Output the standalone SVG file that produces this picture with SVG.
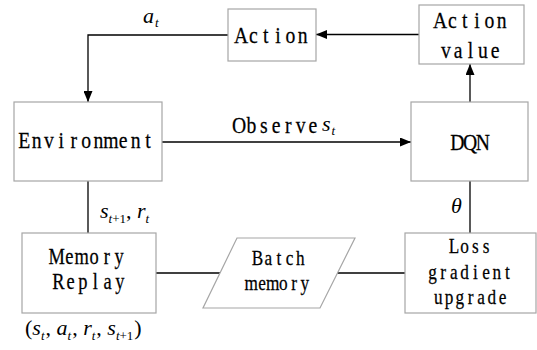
<svg xmlns="http://www.w3.org/2000/svg" width="537" height="350" viewBox="0 0 537 350">
  <defs>
    <marker id="arrow" markerUnits="userSpaceOnUse" markerWidth="11" markerHeight="9" refX="11" refY="4.5" orient="auto">
      <path d="M0,0 L11,4.5 L0,9 z" fill="#000"/>
    </marker>
    <style>
      .box { fill: #fff; stroke: #a6a6a6; stroke-width: 1.2; }
      .edge { fill: none; stroke: #000; stroke-width: 1.3; }
      /* fixed-pitch serif lettering: each glyph centred in its own cell, narrowed by the group scale */
      .lbl { font-family: "Liberation Serif", "Times New Roman", serif; font-size: 24px; fill: #000; stroke: #000; stroke-width: 0.25; text-anchor: middle; }
      .md { font-size: 22.5px; }
      .sm { font-size: 21px; }
      .math { font-family: "Liberation Serif", "Times New Roman", serif; font-style: italic; font-size: 22px; fill: #000; }
      .sub { font-size: 13px; }
      .up { font-style: normal; }
    </style>
  </defs>
  <rect width="537" height="350" fill="#fff"/>

  <!-- connectors -->
  <g id="connectors">
    <path class="edge" d="M419,34.5 H316" marker-end="url(#arrow)"/>
    <path class="edge" d="M228,35 H88 V102" marker-end="url(#arrow)"/>
    <path class="edge" d="M162,142 H411" marker-end="url(#arrow)"/>
    <path class="edge" d="M470,102 V64" marker-end="url(#arrow)"/>
    <path class="edge" d="M88,181 V233"/>
    <path class="edge" d="M156,273 H220"/>
    <path class="edge" d="M337,273 H405"/>
    <path class="edge" d="M470,181 V233"/>
  </g>

  <g id="action">
    <rect class="box" x="228" y="9" width="88" height="52"/>
    <g transform="scale(0.82,1)">
      <text class="lbl" x="294.1 309.1 324.1 339.1 354.1 369.1" y="43">Action</text>
    </g>
  </g>

  <g id="action-value">
    <rect class="box" x="419" y="5" width="105" height="59"/>
    <g transform="scale(0.82,1)">
      <text class="lbl" x="536.8 551.8 566.8 581.8 596.8 611.8" y="28">Action</text>
      <text class="lbl" x="543.8 558.8 573.8 588.8 603.8" y="58">value</text>
    </g>
  </g>

  <g id="environment">
    <rect class="box" x="14" y="102" width="148" height="79"/>
    <g transform="scale(0.82,1)">
      <text class="lbl" x="29.5 44.6 59.7 74.8 89.9 105.0 120.1 135.2 150.3 165.4 180.5" y="148">Environment</text>
    </g>
  </g>

  <g id="dqn">
    <rect class="box" x="411" y="102" width="117" height="79"/>
    <g transform="scale(0.82,1)">
      <text class="lbl" x="557.6 573.2 588.8" y="150">DQN</text>
    </g>
  </g>

  <g id="memory-replay">
    <rect class="box" x="22" y="233" width="134" height="80"/>
    <g transform="scale(0.82,1)">
      <text class="lbl md" x="69.2 84.5 99.7 114.9 130.2 145.4" y="264">Memory</text>
      <text class="lbl md" x="71.1 86.1 101.1 116.1 131.1 146.1" y="289">Replay</text>
    </g>
  </g>

  <g id="batch-memory">
    <polygon class="box" points="237,238 355,238 320,308 203,308"/>
    <g transform="scale(0.82,1)">
      <text class="lbl sm" x="314.1 327.2 340.2 353.3 366.3" y="265">Batch</text>
      <text class="lbl sm" x="306.4 319.5 332.5 345.5 358.6 371.6" y="290">memory</text>
    </g>
  </g>

  <g id="loss-gradient">
    <rect class="box" x="405" y="233" width="131" height="80"/>
    <g transform="scale(0.82,1)">
      <text class="lbl sm" x="553.6 566.6 579.7 592.7" y="253">Loss</text>
      <text class="lbl sm" x="527.5 540.5 553.6 566.6 579.7 592.7 605.8 618.8" y="279">gradient</text>
      <text class="lbl sm" x="534.6 547.7 560.7 573.8 586.8 599.9 612.9" y="304">upgrade</text>
    </g>
  </g>

  <!-- edge labels -->
  <g id="edge-labels">
    <text class="math" x="143" y="23">a<tspan class="sub" dx="1" dy="4">t</tspan></text>
    <g transform="scale(0.82,1)">
      <text class="lbl" x="291.7 306.7 321.7 336.7 351.7 366.7 381.7" y="133">Observe</text>
    </g>
    <text class="math" x="322" y="131">s<tspan class="sub" dx="1" dy="4">t</tspan></text>
    <text class="math" x="100" y="218">s<tspan class="sub" dy="5">t<tspan class="up">+1</tspan></tspan><tspan class="up" dy="-5">, </tspan>r<tspan class="sub" dy="5">t</tspan></text>
    <text class="math" x="451" y="213">θ</text>
    <text class="math" x="25" y="335"><tspan class="up">(</tspan>s<tspan class="sub" dy="5">t</tspan><tspan class="up" dx="1" dy="-5">, </tspan>a<tspan class="sub" dy="5">t</tspan><tspan class="up" dx="1" dy="-5">, </tspan>r<tspan class="sub" dy="5">t</tspan><tspan class="up" dx="1" dy="-5">, </tspan>s<tspan class="sub" dy="5">t<tspan class="up">+1</tspan></tspan><tspan class="up" dx="1" dy="-5">)</tspan></text>
  </g>
</svg>
